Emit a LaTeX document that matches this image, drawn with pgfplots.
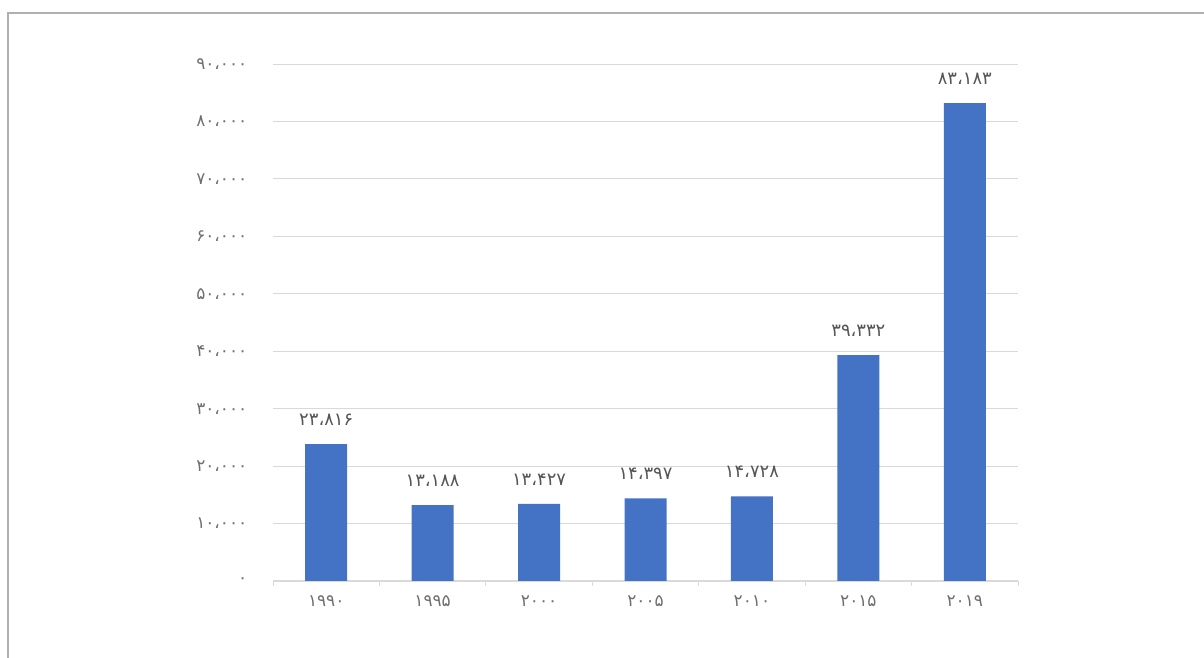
\documentclass[border=0pt]{standalone}
\usepackage{pgfplots}
\pgfplotsset{compat=1.18}
\usepackage{fontspec}
\setmainfont{DejaVu Sans}
\definecolor{barblue}{HTML}{4472C4}
\definecolor{gridgray}{HTML}{D9D9D9}
\definecolor{ticktext}{HTML}{6F6F6F}
\definecolor{labeltext}{HTML}{555555}
\definecolor{framegray}{HTML}{B0B0B0}
\begin{document}
\begin{tikzpicture}[x=1bp,y=1bp]
\path[use as bounding box] (0,0) rectangle (1204,658);
\draw[line width=2bp, framegray] (8,0) -- (8,645) -- (1204,645);
\begin{axis}[
  at={(273bp,77bp)}, anchor=south west,
  scale only axis, width=745bp, height=517bp,
  xmin=-0.5, xmax=6.5, ymin=0, ymax=90000,
  scaled y ticks=false,
  ybar, bar width=42bp,
  axis x line*=bottom, axis y line*=left,
  x axis line style={draw=gridgray, line width=1.2bp},
  y axis line style={draw=none},
  ymajorgrids, grid style={draw=gridgray, line width=0.9bp},
  xtick={0,...,6},
  xticklabels={۱۹۹۰,۱۹۹۵,۲۰۰۰,۲۰۰۵,۲۰۱۰,۲۰۱۵,۲۰۱۹},
  minor xtick={-0.5,0.5,...,6.5},
  major x tick style={draw=none},
  minor x tick style={draw=gridgray, line width=1bp},
  minor tick length=5bp,
  tick align=outside,
  ytick={0,10000,...,90000},
  yticklabels={۰,۱۰،۰۰۰,۲۰،۰۰۰,۳۰،۰۰۰,۴۰،۰۰۰,۵۰،۰۰۰,۶۰،۰۰۰,۷۰،۰۰۰,۸۰،۰۰۰,۹۰،۰۰۰},
  major y tick style={draw=none},
  yticklabel style={font=\fontsize{17}{19}\selectfont, text=ticktext, xshift=-18bp},
  xticklabel style={font=\fontsize{17}{19}\selectfont, text=ticktext, yshift=-7bp},
  point meta=explicit symbolic,
  nodes near coords,
  every node near coord/.append style={font=\fontsize{18}{20}\selectfont, text=labeltext, yshift=15bp},
]
\addplot[fill=barblue, draw=none] coordinates {
  (0,23816) [۲۳،۸۱۶]
  (1,13188) [۱۳،۱۸۸]
  (2,13427) [۱۳،۴۲۷]
  (3,14397) [۱۴،۳۹۷]
  (4,14728) [۱۴،۷۲۸]
  (5,39332) [۳۹،۳۳۲]
  (6,83183) [۸۳،۱۸۳]
};
\end{axis}
\end{tikzpicture}
\end{document}
